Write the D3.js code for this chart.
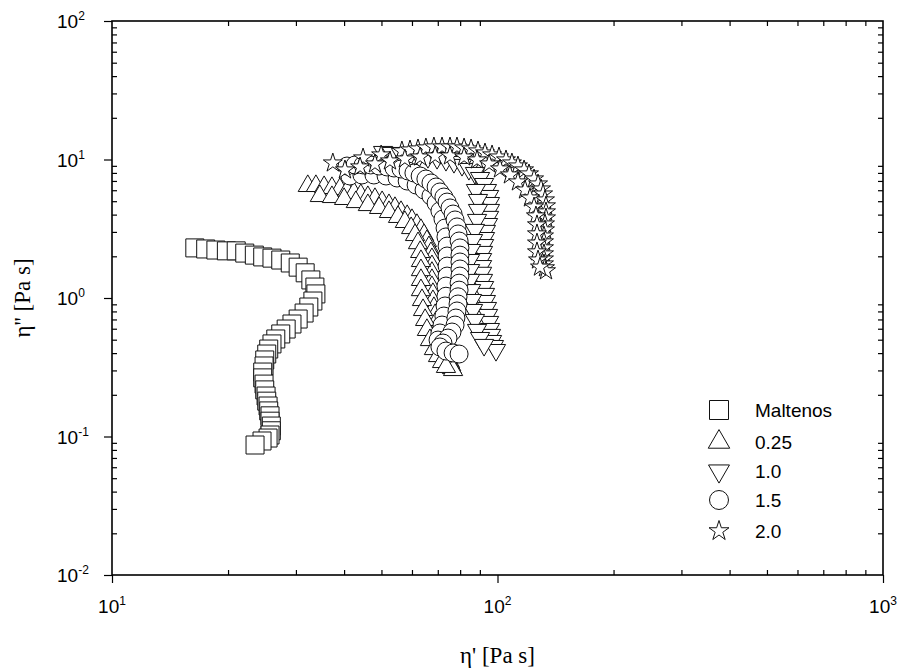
<!DOCTYPE html>
<html>
<head>
<meta charset="utf-8">
<script src="https://cdn.jsdelivr.net/npm/d3@7"></script>
<style>
  body { margin: 0; background: #fff; }
  svg { display: block; }
</style>
</head>
<body>
<div id="chart"></div>
<script>
// eta' / eta'' [Pa s] per sample (two passes for the thick bands)
var maltX = [16.4,17.5,18.6,19.8,21.0,22.1,23.4,24.6,26.0,27.4,29.0,30.4,31.7,32.8,33.6,33.8,33.2,32.4,31.5,30.4,29.3,28.3,27.4,26.6,26.0,25.5,25.2,24.9,24.8,24.6,24.6,24.8,24.9,25.1,25.2,25.4,25.5,25.7,25.7,25.9,25.9,25.7,25.4,24.5,23.5];
var maltY = [2.30,2.26,2.22,2.19,2.19,2.11,2.04,1.98,1.94,1.88,1.79,1.67,1.52,1.35,1.20,1.07,0.951,0.861,0.779,0.705,0.649,0.597,0.550,0.506,0.466,0.428,0.394,0.357,0.323,0.292,0.265,0.239,0.217,0.196,0.180,0.166,0.153,0.141,0.129,0.119,0.110,0.1025,0.0975,0.0928,0.0868];

var s025X = [32.2,33.8,35.5,37.2,39.0,40.7,42.4,44.2,46.1,48.1,50.2,52.3,54.2,56.2,58.3,60.0,61.8,63.3,64.5,65.6,66.4,67.2,67.6,67.6,67.6,67.6,67.6,68.0,68.0,68.4,68.9,69.3,70.1,70.9,71.8,72.6,73.5,74.4,75.3,75.8,76.2,76.7];
var s025Y = [6.44,6.44,6.33,6.23,6.12,5.92,5.73,5.54,5.36,5.19,4.93,4.69,4.47,4.18,3.91,3.66,3.37,3.10,2.85,2.58,2.33,2.11,1.91,1.70,1.52,1.35,1.20,1.07,0.951,0.847,0.754,0.671,0.597,0.532,0.481,0.436,0.401,0.369,0.345,0.328,0.312,0.302];
var s025X2 = [34.6,37.2,40.0,42.9,46.1,49.3,52.3,55.2,57.5,59.7,61.1,62.2,63.0,63.3,63.3,63.3,63.3,63.7,64.1,64.9,65.6,66.8,68.4,70.1,71.8,73.5];
var s025Y2 = [5.45,5.36,5.19,4.93,4.69,4.47,4.18,3.85,3.54,3.20,2.85,2.49,2.15,1.85,1.59,1.35,1.14,0.967,0.819,0.694,0.588,0.497,0.428,0.381,0.345,0.318];

var s10X = [50.5,53.2,56.2,59.3,62.6,66.0,69.7,73.5,77.1,80.9,84.3,87.4,90.1,92.3,93.9,95.1,95.6,95.6,95.1,94.5,93.3,92.8,92.3,91.7,91.2,91.2,91.2,91.7,92.3,92.8,93.3,93.9,94.5,95.1,95.6,96.2,96.8,97.9,99.1];
var s10Y = [11.33,11.14,10.96,10.78,10.60,10.42,10.25,9.92,9.59,9.13,8.54,7.99,7.35,6.65,6.02,5.45,4.85,4.32,3.85,3.42,3.05,2.71,2.41,2.15,1.91,1.70,1.52,1.35,1.20,1.07,0.951,0.847,0.754,0.671,0.597,0.541,0.489,0.450,0.421];
var s10X2 = [87.9,89.0,89.0,88.5,87.4,86.4,85.4,84.9,84.9,84.9,85.4,85.9,86.4,87.4,88.5,90.1,92.3];
var s10Y2 = [6.02,5.10,4.32,3.66,3.10,2.62,2.22,1.88,1.59,1.35,1.14,0.967,0.819,0.694,0.588,0.514,0.458];

var s15X = [40.7,42.7,44.8,46.9,49.3,51.7,53.9,56.2,58.6,60.7,63.0,65.2,67.2,69.3,70.9,72.6,74.0,75.3,76.7,77.6,78.5,79.0,79.5,79.9,79.9,79.9,79.9,79.9,79.5,79.5,79.0,79.0,78.5,78.0,77.6,76.2,74.4,72.2,70.9,73.5,76.7,79.5];
var s15Y = [8.97,9.13,9.13,9.13,8.97,8.83,8.68,8.54,8.26,7.99,7.60,7.23,6.77,6.33,5.83,5.36,4.93,4.47,4.04,3.66,3.26,2.90,2.58,2.30,2.04,1.82,1.62,1.44,1.28,1.14,1.02,0.905,0.806,0.717,0.638,0.568,0.514,0.473,0.443,0.414,0.401,0.394];
var s15X2 = [41.4,44.5,47.8,51.4,54.9,58.3,61.5,64.5,67.2,69.3,70.9,72.2,73.1,73.5,74.0,74.0,74.0,74.0,73.5,73.5,73.1,72.6,71.8,70.9,70.1];
var s15Y2 = [7.60,7.73,7.73,7.60,7.35,6.99,6.54,6.02,5.45,4.85,4.25,3.72,3.20,2.76,2.37,2.01,1.70,1.44,1.22,1.03,0.876,0.741,0.638,0.559,0.497];

var s20X = [37.4,44.8,49.9,56.5,59.3,62.2,65.2,68.4,71.8,75.3,78.5,81.9,85.4,89.0,92.8,96.8,100.9,105.2,109.0,113.0,117.2,120.7,124.4,127.4,129.7,131.3,132.8,133.6,133.6,133.6,132.8,132.8,132.0,132.0,132.0,132.0,132.0,132.0,132.8,133.6];
var s20Y = [9.43,10.25,10.78,11.52,11.71,11.91,12.11,12.31,12.31,12.31,12.31,12.11,11.91,11.52,11.14,10.78,10.42,9.92,9.43,8.97,8.40,7.86,7.23,6.65,6.12,5.63,5.10,4.62,4.18,3.78,3.42,3.10,2.80,2.54,2.30,2.08,1.91,1.76,1.65,1.57];
var s20X2 = [40.2,44.0,48.1,52.6,57.5,63.0,68.9,75.3,81.9,88.5,95.1,101.5,107.7,113.0,117.9,121.4,124.4,125.8,126.6,126.6,126.6,126.6,127.4,128.9];
var s20Y2 = [8.40,8.83,9.28,9.75,10.08,10.42,10.60,10.60,10.42,9.92,9.28,8.54,7.73,6.88,6.02,5.27,4.54,3.91,3.37,2.90,2.49,2.15,1.88,1.67];

var seriesNames = ["Maltenos", "0.25", "1.0", "1.5", "2.0"];
var xDecades = [10, 100, 1000];
var yDecades = [0.01, 0.1, 1, 10, 100];

var W = 901, H = 670;
var margin = {left: 112, top: 21, right: 18, bottom: 95};
var width = W - margin.left - margin.right,
    height = H - margin.top - margin.bottom;

var svg = d3.select("#chart").append("svg")
    .attr("width", W).attr("height", H);

var scale_X = d3.scaleLog().domain([10, 1000]).range([0, width]);
var scale_Y = d3.scaleLog().domain([0.01, 100]).range([height, 0]);

var g = svg.append("g")
    .attr("transform", "translate(" + margin.left + "," + margin.top + ")");

// minor ticks 2..9 of each decade
function minors(decades) {
  var out = [];
  for (var i = 0; i < decades.length - 1; i++)
    for (var k = 2; k <= 9; k++) out.push(decades[i] * k);
  return out;
}

var font = "'Liberation Sans', Arial, sans-serif";

function styleAxis(sel) {
  sel.select(".domain").remove();
  sel.selectAll("line").attr("stroke", "#000").attr("stroke-width", 1.2);
  sel.selectAll("text").remove();
}

// bottom: major outward, minor inward
g.append("g").attr("transform", "translate(0," + height + ")")
  .call(d3.axisBottom(scale_X).tickValues(xDecades).tickSize(8).tickFormat(""))
  .call(styleAxis);
g.append("g").attr("transform", "translate(0," + height + ")")
  .call(d3.axisBottom(scale_X).tickValues(minors(xDecades)).tickSize(-5).tickFormat(""))
  .call(styleAxis);
// top: minor inward
g.append("g")
  .call(d3.axisTop(scale_X).tickValues(minors(xDecades)).tickSize(-5).tickFormat(""))
  .call(styleAxis);
// left
g.append("g")
  .call(d3.axisLeft(scale_Y).tickValues(yDecades).tickSize(8).tickFormat(""))
  .call(styleAxis);
g.append("g")
  .call(d3.axisLeft(scale_Y).tickValues(minors(yDecades)).tickSize(-5).tickFormat(""))
  .call(styleAxis);
// right: minor inward
g.append("g").attr("transform", "translate(" + width + ",0)")
  .call(d3.axisRight(scale_Y).tickValues(minors(yDecades)).tickSize(-5).tickFormat(""))
  .call(styleAxis);

// frame
g.append("rect").attr("width", width).attr("height", height)
  .attr("fill", "none").attr("stroke", "#000").attr("stroke-width", 1.6);

function powLabel(sel, exp) {
  sel.append("tspan").text("10");
  sel.append("tspan").attr("dy", -8).attr("font-size", 12).text(exp);
}

xDecades.forEach(function(v) {
  g.append("text")
    .attr("x", scale_X(v)).attr("y", height + 38)
    .attr("text-anchor", "middle")
    .attr("font-family", font).attr("font-size", 19)
    .call(powLabel, Math.round(Math.log10(v)));
});

yDecades.forEach(function(v) {
  g.append("text")
    .attr("x", 57 - margin.left).attr("y", scale_Y(v) + 7)
    .attr("font-family", font).attr("font-size", 19)
    .call(powLabel, Math.round(Math.log10(v)));
});

// axis titles
svg.append("text")
  .attr("x", margin.left + width / 2).attr("y", 663)
  .attr("text-anchor", "middle")
  .attr("font-family", "'Liberation Serif', 'Times New Roman', serif").attr("font-size", 23)
  .text("\u03B7' [Pa s]");
svg.append("text")
  .attr("transform", "translate(30," + (margin.top + height / 2) + ") rotate(-90)")
  .attr("text-anchor", "middle")
  .attr("font-family", "'Liberation Serif', 'Times New Roman', serif").attr("font-size", 23)
  .text("\u03B7'' [Pa s]");

// markers
var shapes = [
  {type: d3.symbolSquare,   size: 18 * 18, rot: 0,   lsize: 19 * 19},
  {type: d3.symbolTriangle, size: 160,     rot: 0,   lsize: 200},
  {type: d3.symbolTriangle, size: 160,     rot: 180, lsize: 190},
  {type: d3.symbolCircle,   size: 254,     rot: 0,   lsize: 283},
  {type: d3.symbolStar,     size: 112,     rot: 0,   lsize: 124}
];
// draw order, each trace tagged with its marker
var traces = [
  [maltX, maltY, 0],
  [s025X, s025Y, 1], [s025X2, s025Y2, 1],
  [s10X, s10Y, 2], [s10X2, s10Y2, 2],
  [s15X2, s15Y2, 3], [s15X, s15Y, 3],
  [s20X, s20Y, 4], [s20X2, s20Y2, 4]
];

var plot = g.append("g");
traces.forEach(function(s) {
  var sh = shapes[s[2]];
  var pts = s[0].map(function(x, i) { return {x: x, y: s[1][i]}; });
  var sym = d3.symbol().type(sh.type).size(sh.size);
  plot.append("g").selectAll("path").data(pts).enter().append("path")
    .attr("d", sym)
    .attr("transform", function(d) {
      return "translate(" + scale_X(d.x) + "," + scale_Y(d.y) + ") rotate(" + sh.rot + ")"; })
    .attr("fill", "#fff").attr("stroke", "#111").attr("stroke-width", 1);
});

// legend
var legY = [410, 442, 471, 500, 531];
var leg = svg.append("g");
seriesNames.forEach(function(name, i) {
  var sym = d3.symbol().type(shapes[i].type).size(shapes[i].lsize);
  leg.append("path").attr("d", sym)
    .attr("transform", "translate(719," + legY[i] + ") rotate(" + shapes[i].rot + ")")
    .attr("fill", "#fff").attr("stroke", "#111").attr("stroke-width", 1);
  leg.append("text").attr("x", 755).attr("y", legY[i] + 7)
    .attr("font-family", font).attr("font-size", 19)
    .text(name);
});
</script>
</body>
</html>
